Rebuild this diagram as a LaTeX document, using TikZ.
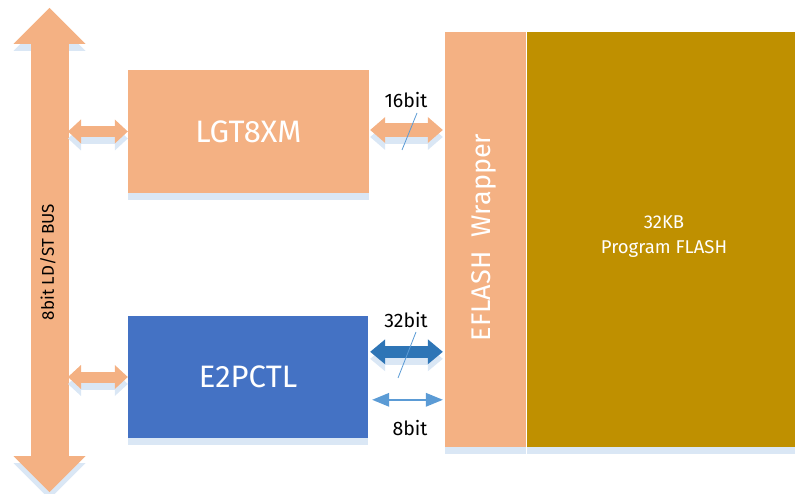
\documentclass[tikz,border=0pt]{standalone}
\usepackage{fontspec}
\setmainfont{Fira Sans}
\usetikzlibrary{arrows.meta,calc,shadows}
\definecolor{orng}{HTML}{F4B183}
\definecolor{bluebox}{HTML}{4472C4}
\definecolor{gold}{HTML}{BF9000}
\definecolor{refl}{HTML}{DAE7F5}
\definecolor{dblue}{HTML}{2E75B6}
\definecolor{lblue}{HTML}{5B9BD5}
\begin{document}
\begin{tikzpicture}[x=1pt,y=-1pt,
  blk/.style={draw=none, inner sep=0pt, text=white,
    general shadow={fill=refl, shadow yshift=-7pt}},
  fatarrow/.style args={#1/#2/#3}{line width=#1,
    {Triangle[width=#2,length=#3,line width=0pt]}-{Triangle[width=#2,length=#3,line width=0pt]}},
  reflect/.style={refl, transform canvas={yshift=-7pt}},
  lbl/.style={font=\fontsize{19.5}{22}\selectfont, text=black, inner sep=0pt},
  slash/.style={lblue, line width=0.8pt}
]
\useasboundingbox (0,0) rectangle (795,494);

% blocks
\node[blk, fill=orng, minimum width=241pt, minimum height=123pt,
  font=\fontsize{31}{36}\selectfont] (lgt) at (248.5,131.5) {LGT8XM};
\node[blk, fill=bluebox, minimum width=240pt, minimum height=122pt,
  font=\fontsize{31}{36}\selectfont] (e2p) at (248,377) {E2PCTL};
\node[blk, fill=orng, minimum width=81pt, minimum height=415pt] (wrap) at (485.5,239.5) {};
\node[blk, fill=gold, minimum width=268pt, minimum height=415pt] (flash) at (661,239.5) {};
\node[text=white, inner sep=0pt, align=center, font=\fontsize{18.5}{25}\selectfont]
  (flashtxt) at (664,237) {32KB\\Program FLASH};
\node[rotate=90, text=white, inner sep=0pt, font=\fontsize{27}{30}\selectfont]
  (wraptxt) at (484,237.5) {EFLASH\ \ Wrapper};

% bus
\coordinate (bustop) at (49.5,8);
\coordinate (busbot) at (49.5,492);
\coordinate (busR) at (68,0);
\draw[fatarrow={38pt/72pt/36pt}, reflect] (bustop) -- (busbot);
\draw[fatarrow={38pt/72pt/36pt}, orng] (bustop) -- (busbot);
\node[rotate=90, inner sep=0pt, font=\fontsize{17}{19}\selectfont] (buslbl) at (48,262) {8bit LD/ST BUS};

% bus to blocks
\draw[fatarrow={11pt/24pt/13pt}, reflect] (busR |- lgt.west) -- (lgt.west);
\draw[fatarrow={11pt/24pt/13pt}, orng] (busR |- lgt.west) -- (lgt.west);
\draw[fatarrow={11pt/24pt/13pt}, reflect] (busR |- e2p.west) -- (e2p.west);
\draw[fatarrow={11pt/24pt/13pt}, orng] (busR |- e2p.west) -- (e2p.west);

% 16bit
\coordinate (p16) at ($(lgt.east)+(1,-1.5)$);
\draw[fatarrow={14pt/26pt/15pt}, reflect] (p16) -- ($(wrap.west |- p16)+(-2,0)$);
\draw[fatarrow={14pt/26pt/15pt}, orng] (p16) -- ($(wrap.west |- p16)+(-2,0)$);
\node[lbl] (l16) at (406,100) {16bit};
\coordinate (s1a) at (417,113);
\coordinate (s1b) at (402,150);
\draw[slash] (s1a) -- (s1b);

% 32bit
\coordinate (p32) at ($(e2p.north east)+(2,36)$);
\draw[fatarrow={12pt/25pt/15pt}, reflect] (p32) -- ($(wrap.west |- p32)+(-2,0)$);
\draw[fatarrow={12pt/25pt/15pt}, dblue] (p32) -- ($(wrap.west |- p32)+(-2,0)$);
\node[lbl] (l32) at (406,320) {32bit};
\coordinate (s2a) at (416,332);
\coordinate (s2b) at (398,378);
\draw[slash] (s2a) -- (s2b);

% 8bit
\coordinate (p8) at ($(e2p.north east)+(4,84)$);
\draw[line width=2pt, lblue,
  {Triangle[width=14pt,length=17pt,line width=0pt]}-{Triangle[width=14pt,length=17pt,line width=0pt]}]
  (p8) -- ($(wrap.west |- p8)+(-2,0)$);
\node[lbl] (l8) at (410,428) {8bit};
\end{tikzpicture}
\end{document}
